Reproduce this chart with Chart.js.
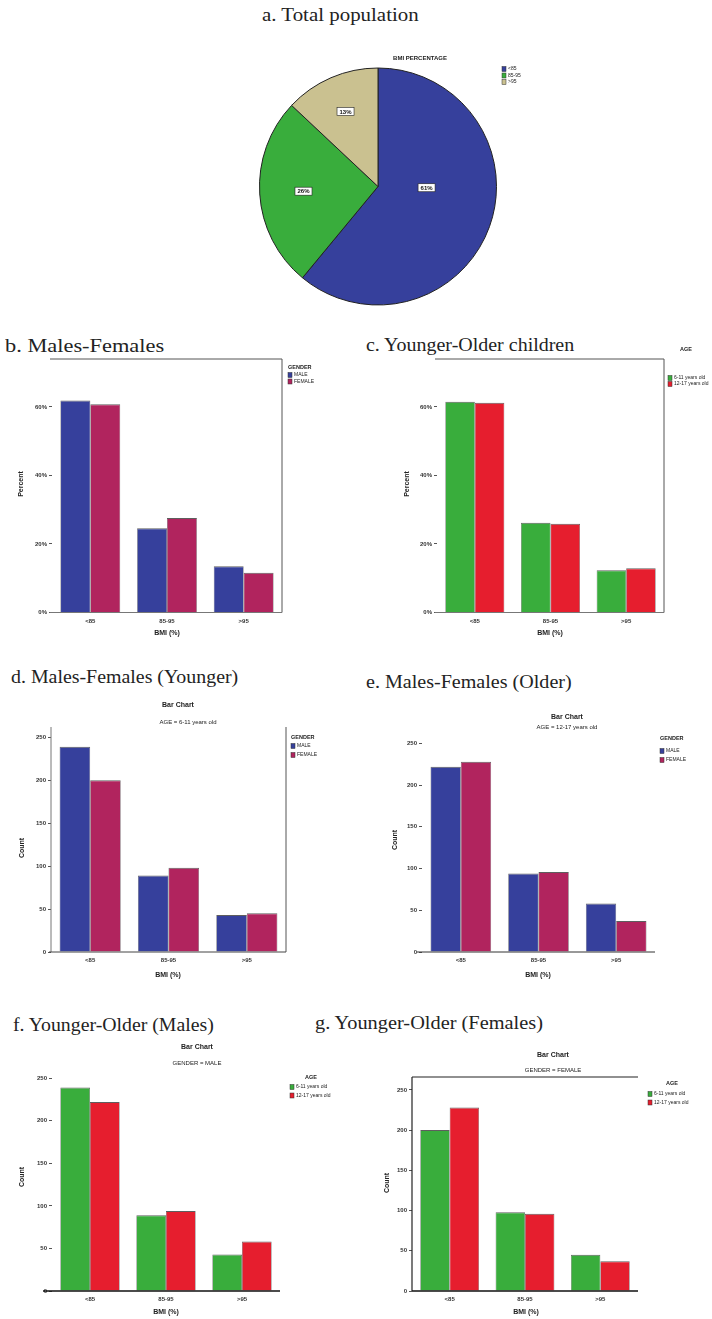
<!DOCTYPE html>
<html>
<head>
<meta charset="utf-8">
<title>BMI percentage by gender and age group</title>
<script src="https://cdn.jsdelivr.net/npm/chart.js@4.4.1/dist/chart.umd.min.js"></script>
<style>
  html, body { margin: 0; padding: 0; background: #fff; }
  body { width: 712px; height: 1319px; position: relative; overflow: hidden; }
  .head { position: absolute; font-family: "Liberation Serif", "DejaVu Serif", serif; font-size: 18.5px;
          color: #232323; white-space: nowrap; line-height: 1; transform-origin: 0 50%; }
  canvas { position: absolute; }
</style>
</head>
<body>
<div class="head" style="left:262px;top:6px;transform:scaleX(1.13)">a. Total population</div>
<div class="head" style="left:5px;top:337px;transform:scaleX(1.21)">b. Males-Females</div>
<div class="head" style="left:366px;top:336px;transform:scaleX(1.08)">c. Younger-Older children</div>
<div class="head" style="left:11px;top:668px;transform:scaleX(1.075)">d. Males-Females (Younger)</div>
<div class="head" style="left:366px;top:673px;transform:scaleX(1.085)">e. Males-Females (Older)</div>
<div class="head" style="left:13px;top:1016px;transform:scaleX(1.07)">f. Younger-Older (Males)</div>
<div class="head" style="left:315px;top:1014px;transform:scaleX(1.1)">g. Younger-Older (Females)</div>

<canvas id="pieTotal"></canvas>
<canvas id="barGender"></canvas>
<canvas id="barAge"></canvas>
<canvas id="barGenderYounger"></canvas>
<canvas id="barGenderOlder"></canvas>
<canvas id="barAgeMales"></canvas>
<canvas id="barAgeFemales"></canvas>

<script>
// ---- data ----
const bmiCategories = ['<85', '85-95', '>95'];
const totalPct = [61, 26, 13];

const malePct = [61.9, 24.6, 13.5];
const femalePct = [60.8, 27.6, 11.6];
const youngerPct = [61.5, 26.2, 12.3];
const olderPct = [61.2, 25.9, 12.9];

const youngerMaleCount = [239, 89, 43];
const youngerFemaleCount = [200, 98, 45];
const olderMaleCount = [222, 94, 58];
const olderFemaleCount = [228, 96, 37];

const pctTicks = [0, 20, 40, 60];
const countTicks = [0, 50, 100, 150, 200, 250];

const genderLabels = ['MALE', 'FEMALE'];
const ageLabels = ['6-11 years old', '12-17 years old'];

// ---- styling ----
const BLUE = '#36409c', MAGENTA = '#b1245e', GREEN = '#39ad3c', RED = '#e61e2e', TAN = '#cac190';
const SANS = '"Liberation Sans", Arial, sans-serif';
Chart.defaults.font.family = SANS;
Chart.defaults.animation = false;

// free text: titles, axis titles (page coordinates, shifted by the canvas origin)
const captionsPlugin = {
  id: 'captions',
  afterDraw(chart, args, opts) {
    const ctx = chart.ctx, o = opts.origin || { x: 0, y: 0 };
    (opts.items || []).forEach(it => {
      ctx.save();
      ctx.font = (it.bold ? 'bold ' : '') + (it.size || 7) + 'px ' + SANS;
      ctx.fillStyle = it.color || '#222';
      ctx.textAlign = it.align || 'center';
      ctx.textBaseline = 'middle';
      ctx.translate(it.x - o.x, it.y - o.y);
      if (it.rot) ctx.rotate(it.rot * Math.PI / 180);
      ctx.fillText(it.t, 0, 0);
      ctx.restore();
    });
  }
};

// small key box to the right of the plot
const keyPlugin = {
  id: 'keyBox',
  afterDraw(chart, args, opts) {
    if (opts.x === undefined) return;
    const ctx = chart.ctx, o = opts.origin;
    const x = opts.x - o.x;
    let y = opts.y - o.y;
    ctx.save();
    ctx.textBaseline = 'middle';
    ctx.textAlign = 'left';
    if (opts.title) {
      ctx.font = 'bold 5.5px ' + SANS;
      ctx.fillStyle = '#222';
      ctx.fillText(opts.title, x + (opts.titleDx || 0), y);
      y += opts.titleGap || 8;
    }
    const items = chart.options.plugins.legend.labels.generateLabels(chart);
    ctx.font = '5px ' + SANS;
    items.forEach(item => {
      ctx.fillStyle = item.fillStyle;
      ctx.fillRect(x, y - 2.5, 4, 5);
      ctx.strokeStyle = '#333';
      ctx.lineWidth = 0.5;
      ctx.strokeRect(x, y - 2.5, 4, 5);
      ctx.fillStyle = '#222';
      ctx.fillText(item.text, x + 6, y);
      y += opts.step || 7;
    });
    ctx.restore();
  }
};

// plot frame lines around the chart area
const framePlugin = {
  id: 'frame',
  afterDatasetsDraw(chart, args, opts) {
    const { left, right, top, bottom } = chart.chartArea;
    const ctx = chart.ctx;
    ctx.save();
    (opts.lines || []).forEach(l => {
      ctx.strokeStyle = l.color || '#555';
      ctx.lineWidth = l.width || 1;
      const e = l.ext || 0;
      ctx.beginPath();
      if (l.side === 'top') { ctx.moveTo(left - e, top); ctx.lineTo(right, top); }
      if (l.side === 'right') { ctx.moveTo(right, top); ctx.lineTo(right, bottom); }
      if (l.side === 'left') { ctx.moveTo(left, top); ctx.lineTo(left, bottom); }
      if (l.side === 'bottom') { ctx.moveTo(left - e, bottom); ctx.lineTo(right, bottom); }
      ctx.stroke();
    });
    ctx.restore();
  }
};

// percent tags inside pie slices
const sliceTagPlugin = {
  id: 'sliceTags',
  afterDatasetsDraw(chart, args, opts) {
    const ctx = chart.ctx;
    const meta = chart.getDatasetMeta(0);
    meta.data.forEach((arc, i) => {
      const p = arc.getProps(['x', 'y', 'startAngle', 'endAngle', 'outerRadius'], true);
      const mid = (p.startAngle + p.endAngle) / 2 + (opts.turn[i] || 0);
      const r = p.outerRadius * opts.radius[i];
      const px = p.x + Math.cos(mid) * r, py = p.y + Math.sin(mid) * r;
      const txt = chart.data.datasets[0].data[i] + '%';
      ctx.save();
      ctx.font = 'bold 6px ' + SANS;
      const w = ctx.measureText(txt).width + 5;
      ctx.fillStyle = '#fff';
      ctx.fillRect(px - w / 2, py - 4, w, 8);
      ctx.strokeStyle = '#222';
      ctx.lineWidth = 0.6;
      ctx.strokeRect(px - w / 2, py - 4, w, 8);
      ctx.fillStyle = '#111';
      ctx.textAlign = 'center';
      ctx.textBaseline = 'middle';
      ctx.fillText(txt, px, py + 0.5);
      ctx.restore();
    });
  }
};

function place(canvas, box) {
  canvas.width = box.w;
  canvas.height = box.h;
  canvas.style.left = box.x + 'px';
  canvas.style.top = box.y + 'px';
}

// ---- pie: total population ----
(function () {
  const box = { x: 230, y: 40, w: 340, h: 290 };
  const canvas = document.getElementById('pieTotal');
  place(canvas, box);
  new Chart(canvas, {
    type: 'pie',
    data: {
      labels: bmiCategories,
      datasets: [{ data: totalPct, backgroundColor: [BLUE, GREEN, TAN], borderColor: '#222', borderWidth: 1 }]
    },
    options: {
      responsive: false,
      layout: { padding: { left: 29, top: 27.5, right: 73, bottom: 24.5 } },
      plugins: {
        legend: { display: false },
        tooltip: { enabled: false },
        captions: { origin: box, items: [{ t: 'BMI PERCENTAGE', x: 420, y: 58, size: 6, bold: true }] },
        keyBox: { origin: box, x: 502, y: 69, step: 6.5 },
        sliceTags: { radius: [0.41, 0.63, 0.69], turn: [-0.32, 0, 0] }
      }
    },
    plugins: [captionsPlugin, keyPlugin, sliceTagPlugin]
  });
})();

// ---- grouped bar panels ----
function barPanel(cfg) {
  const { id, box, area, yMax, ticks, pct, labels, series, colors } = cfg;
  const canvas = document.getElementById(id);
  place(canvas, box);
  const yW = 30, xH = 14;
  new Chart(canvas, {
    type: 'bar',
    data: {
      labels: bmiCategories,
      datasets: series.map((s, i) => ({
        label: labels[i],
        data: s,
        backgroundColor: colors[i],
        borderColor: 'rgba(25,25,25,0.7)',
        borderWidth: { top: 1, left: 0.6, right: 0.6, bottom: 0 },
        categoryPercentage: 0.78,
        barPercentage: 1
      }))
    },
    options: {
      responsive: false,
      layout: {
        padding: {
          left: area.l - box.x - yW,
          top: area.t - box.y,
          right: box.x + box.w - area.r,
          bottom: box.y + box.h - area.b - xH
        }
      },
      scales: {
        x: {
          afterFit: s => { s.height = xH; },
          grid: { display: false, drawTicks: false, tickLength: 0 },
          border: { display: false },
          ticks: { font: { size: 6, weight: 'bold' }, color: '#333', padding: 5, maxRotation: 0, autoSkip: false }
        },
        y: {
          min: 0,
          max: yMax,
          afterFit: s => { s.width = yW; },
          afterBuildTicks: s => { s.ticks = ticks.map(v => ({ value: v })); },
          grid: { drawOnChartArea: false, drawTicks: true, tickLength: 3, color: '#555' },
          border: { display: false },
          ticks: {
            font: { size: 6, weight: 'bold' }, color: '#333', padding: 2,
            callback: v => pct ? v + '%' : String(v)
          }
        }
      },
      plugins: {
        legend: { display: false },
        tooltip: { enabled: false },
        captions: { origin: box, items: cfg.captions },
        keyBox: Object.assign({ origin: box }, cfg.key),
        frame: { lines: cfg.frame }
      }
    },
    plugins: [framePlugin, captionsPlugin, keyPlugin]
  });
}

barPanel({
  id: 'barGender', box: { x: 0, y: 352, w: 350, h: 290 }, area: { l: 52, t: 359, r: 282, b: 612.5 },
  yMax: 74, ticks: pctTicks, pct: true, labels: genderLabels, series: [malePct, femalePct], colors: [BLUE, MAGENTA],
  captions: [
    { t: 'Percent', x: 21, y: 484, rot: -90, bold: true },
    { t: 'BMI (%)', x: 167, y: 633, bold: true }
  ],
  key: { x: 288, y: 367, title: 'GENDER', step: 6.5, titleGap: 8 },
  frame: [
    { side: 'top', color: '#555', ext: 2 }, { side: 'right', color: '#555' }, { side: 'bottom', color: '#777', ext: 2 }
  ]
});

barPanel({
  id: 'barAge', box: { x: 350, y: 340, w: 362, h: 302 }, area: { l: 437, t: 359, r: 664, b: 612.5 },
  yMax: 74, ticks: pctTicks, pct: true, labels: ageLabels, series: [youngerPct, olderPct], colors: [GREEN, RED],
  captions: [
    { t: 'Percent', x: 407, y: 484, rot: -90, bold: true },
    { t: 'BMI (%)', x: 550, y: 633, bold: true }
  ],
  key: { x: 668, y: 349, title: 'AGE', titleDx: 12, step: 6, titleGap: 29 },
  frame: [
    { side: 'top', color: '#555', ext: 2 }, { side: 'right', color: '#555' }, { side: 'bottom', color: '#777', ext: 2 }
  ]
});

barPanel({
  id: 'barGenderYounger', box: { x: 0, y: 695, w: 350, h: 290 }, area: { l: 51, t: 727, r: 286, b: 952 },
  yMax: 262, ticks: countTicks, pct: false, labels: genderLabels, series: [youngerMaleCount, youngerFemaleCount],
  colors: [BLUE, MAGENTA],
  captions: [
    { t: 'Bar Chart', x: 178, y: 705, bold: true },
    { t: 'AGE = 6-11 years old', x: 188, y: 722, size: 6 },
    { t: 'Count', x: 22, y: 848, rot: -90, bold: true },
    { t: 'BMI (%)', x: 168, y: 975, bold: true }
  ],
  key: { x: 291, y: 737, title: 'GENDER', step: 9, titleGap: 9 },
  frame: [
    { side: 'left', color: '#777' }, { side: 'right', color: '#555' }, { side: 'bottom', color: '#444', ext: 2 }
  ]
});

barPanel({
  id: 'barGenderOlder', box: { x: 350, y: 700, w: 362, h: 285 }, area: { l: 422, t: 735, r: 655, b: 952 },
  yMax: 260, ticks: countTicks, pct: false, labels: genderLabels, series: [olderMaleCount, olderFemaleCount],
  colors: [BLUE, MAGENTA],
  captions: [
    { t: 'Bar Chart', x: 567, y: 717, bold: true },
    { t: 'AGE = 12-17 years old', x: 567, y: 727, size: 6 },
    { t: 'Count', x: 395, y: 840, rot: -90, bold: true },
    { t: 'BMI (%)', x: 538, y: 975, bold: true }
  ],
  key: { x: 660, y: 738, title: 'GENDER', step: 9, titleGap: 13 },
  frame: [{ side: 'bottom', color: '#333', ext: 5 }]
});

barPanel({
  id: 'barAgeMales', box: { x: 0, y: 1038, w: 350, h: 281 }, area: { l: 52, t: 1073, r: 280, b: 1291 },
  yMax: 256, ticks: countTicks, pct: false, labels: ageLabels, series: [youngerMaleCount, olderMaleCount],
  colors: [GREEN, RED],
  captions: [
    { t: 'Bar Chart', x: 197, y: 1047, bold: true },
    { t: 'GENDER = MALE', x: 197, y: 1063, size: 6 },
    { t: 'Count', x: 22, y: 1177, rot: -90, bold: true },
    { t: 'BMI (%)', x: 166, y: 1312, bold: true }
  ],
  key: { x: 290, y: 1077, title: 'AGE', titleDx: 15, step: 8.5, titleGap: 10 },
  frame: [{ side: 'bottom', color: '#111', width: 1.5, ext: 9 }]
});

barPanel({
  id: 'barAgeFemales', box: { x: 350, y: 1040, w: 362, h: 279 }, area: { l: 412, t: 1077, r: 638, b: 1291 },
  yMax: 266, ticks: countTicks, pct: false, labels: ageLabels, series: [youngerFemaleCount, olderFemaleCount],
  colors: [GREEN, RED],
  captions: [
    { t: 'Bar Chart', x: 553, y: 1055, bold: true },
    { t: 'GENDER = FEMALE', x: 553, y: 1070, size: 6 },
    { t: 'Count', x: 387, y: 1183, rot: -90, bold: true },
    { t: 'BMI (%)', x: 526, y: 1312, bold: true }
  ],
  key: { x: 648, y: 1083, title: 'AGE', titleDx: 18, step: 8.5, titleGap: 11 },
  frame: [
    { side: 'top', color: '#222', width: 1.2 }, { side: 'left', color: '#222', width: 1.2 },
    { side: 'bottom', color: '#111', width: 1.5 }
  ]
});
</script>
</body>
</html>
